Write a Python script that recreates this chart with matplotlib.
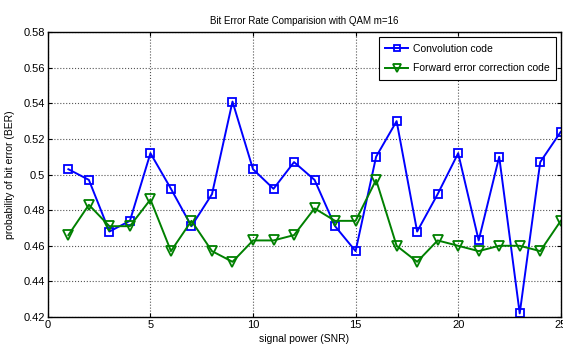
import matplotlib
matplotlib.use("Agg")
import matplotlib.pyplot as plt

snr = list(range(1, 26))
conv = [0.503, 0.497, 0.468, 0.474, 0.512, 0.492, 0.471, 0.489, 0.541, 0.503,
        0.492, 0.507, 0.497, 0.471, 0.457, 0.510, 0.530, 0.468, 0.489, 0.512,
        0.463, 0.510, 0.422, 0.507, 0.524]
fec = [0.466, 0.483, 0.471, 0.471, 0.486, 0.457, 0.474, 0.457, 0.451, 0.463,
       0.463, 0.466, 0.481, 0.474, 0.474, 0.497, 0.460, 0.451, 0.463, 0.460,
       0.457, 0.460, 0.460, 0.457, 0.474]
xticks = [0, 5, 10, 15, 20, 25]
yticks = [0.42, 0.44, 0.46, 0.48, 0.50, 0.52, 0.54, 0.56, 0.58]

plt.rcParams['font.family'] = ['Liberation Sans', 'DejaVu Sans']
fig = plt.figure(figsize=(5.63, 3.53), dpi=100)
ax = fig.add_axes([0.085, 0.102, 0.911, 0.807])

ax.plot(snr, conv, color='#0000ff', marker='s', markersize=6, markerfacecolor='none',
        markeredgewidth=1.3, linewidth=1.4, label='Convolution code')
ax.plot(snr, fec, color='#008000', marker='v', markersize=6.5, markerfacecolor='none',
        markeredgewidth=1.3, linewidth=1.4, label='Forward error correction code')

ax.set_xlim(0, 25)
ax.set_ylim(0.42, 0.58)
ax.set_xticks(xticks)
ax.set_yticks(yticks)
ax.set_xticklabels([str(t) for t in xticks])
ax.set_yticklabels(['%g' % t for t in yticks])
ax.tick_params(direction='in', top=True, right=True, labelsize=8, length=3, pad=2)
ax.grid(True, linestyle=':', color='#555555', linewidth=0.8)
for s in ax.spines.values():
    s.set_linewidth(1.0)
    s.set_color('black')

ax.set_title('Bit Error Rate Comparision with QAM m=16', fontsize=7, pad=6)
ax.set_xlabel('signal power (SNR)', fontsize=7.5, labelpad=3)
ax.set_ylabel('probability of bit error (BER)', fontsize=7.5, labelpad=6)

leg = ax.legend(loc='upper right', fontsize=7.5, fancybox=False, framealpha=1,
                edgecolor='black', borderaxespad=0.5, handlelength=2.2,
                labelspacing=0.95, borderpad=0.6, handletextpad=0.4, markerscale=0.8)
leg.get_frame().set_linewidth(0.8)

fig.savefig('out.png', dpi=100)
